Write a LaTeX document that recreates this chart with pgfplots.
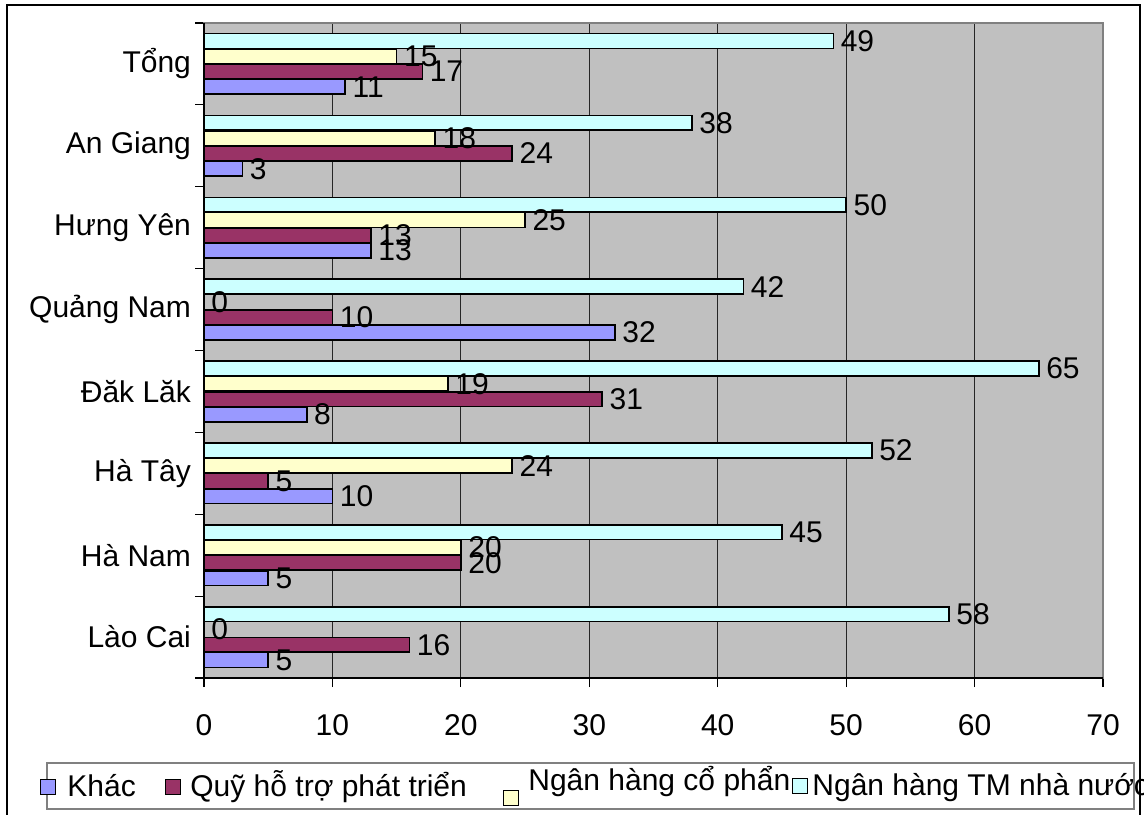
\documentclass[border=0pt]{standalone}
\usepackage{pgfplots}
\pgfplotsset{compat=1.18}
\usepackage{pgfplotstable}
\usepackage{fontspec}
\setmainfont{Liberation Sans}

\definecolor{plotgray}{HTML}{C0C0C0}
\definecolor{khac}{HTML}{9999FF}
\definecolor{quy}{HTML}{993366}
\definecolor{cophan}{HTML}{FFFFCC}
\definecolor{tmnn}{HTML}{CCFFFF}
\definecolor{edgegray}{HTML}{808080}

\newcommand\lbl{\fontsize{15}{18}\selectfont}

% idx: 0 = Lào Cai ... 7 = Tổng (bottom to top)
\pgfplotstableread{
idx khac quy cophan tm
0   5    16  0      58
1   5    20  20     45
2   10   5   24     52
3   8    31  19     65
4   32   10  0      42
5   13   13  25     50
6   3    24  18     38
7   11   17  15     49
}\shares

\begin{document}
\begin{tikzpicture}[x=1pt,y=1pt]
\useasboundingbox (0,0) rectangle (572,407);

% legend
\draw[edgegray, line width=0.6pt, fill=white] (23.5,2.5) rectangle (567,25.5);
\draw[black, line width=0.5pt, fill=khac]   (20,10) rectangle (27.5,17.5);
\node[anchor=base west, inner sep=0pt, font=\lbl] at (33.5,9) {Khác};
\draw[black, line width=0.5pt, fill=quy]    (82.5,10) rectangle (90,17.5);
\node[anchor=base west, inner sep=0pt, font=\lbl] at (95,9) {Quỹ hỗ trợ phát triển};
\draw[black, line width=0.5pt, fill=cophan] (251.5,4.5) rectangle (259,12);
\node[anchor=base west, inner sep=0pt, font=\lbl] at (264,12) {Ngân hàng cổ phẩn};
\draw[black, line width=0.5pt, fill=tmnn]   (396,10.5) rectangle (403.5,18);
\node[anchor=base west, inner sep=0pt, font=\lbl] at (406,9.5) {Ngân hàng TM nhà nước};

\begin{axis}[
  at={(102pt,68pt)}, anchor=south west,
  scale only axis, width=449.5pt, height=327.5pt,
  xbar, bar width=0.18,
  xmin=0, xmax=70, ymin=-0.5, ymax=7.5,
  xtick={0,10,...,70}, xtick pos=bottom, ytick pos=left,
  ytick={-0.5,0.5,...,7.5}, yticklabels={},
  extra y ticks={0,1,2,3,4,5,6,7},
  extra y tick labels={Lào Cai,Hà Nam,Hà Tây,Đăk Lăk,Quảng Nam,Hưng Yên,An Giang,Tổng},
  extra y tick style={major tick length=0pt},
  tick align=outside, major tick length=4.5pt,
  tick style={black, line width=0.6pt},
  xmajorgrids, major grid style={black!85, line width=0.6pt},
  axis line style={edgegray, line width=0.6pt},
  axis background/.style={fill=plotgray},
  ticklabel style={font=\lbl},
  /pgf/number format/assume math mode=true,
  xticklabel style={yshift=-10pt},
  yticklabel style={xshift=-3pt},
  point meta=x,
  nodes near coords,
  every node near coord/.append style={font=\lbl, anchor=west, text=black},
  clip=false,
]
\addplot[fill=khac,   draw=black, line width=0.8pt, bar shift=-0.2805] table[x=khac,   y=idx] {\shares};
\addplot[fill=quy,    draw=black, line width=0.8pt, bar shift=-0.0935] table[x=quy,    y=idx] {\shares};
\addplot[fill=cophan, draw=black, line width=0.8pt, bar shift=0.0935]  table[x=cophan, y=idx] {\shares};
\addplot[fill=tmnn,   draw=black, line width=0.8pt, bar shift=0.2805]  table[x=tm,     y=idx] {\shares};
\draw[black, line width=0.8pt] (rel axis cs:0,1) -- (rel axis cs:0,0) -- (rel axis cs:1,0);
\end{axis}

% outer frame
\draw[black, line width=1pt] (3.5,-5) -- (3.5,404.5) -- (570,404.5) -- (570,-5);
\end{tikzpicture}
\end{document}
